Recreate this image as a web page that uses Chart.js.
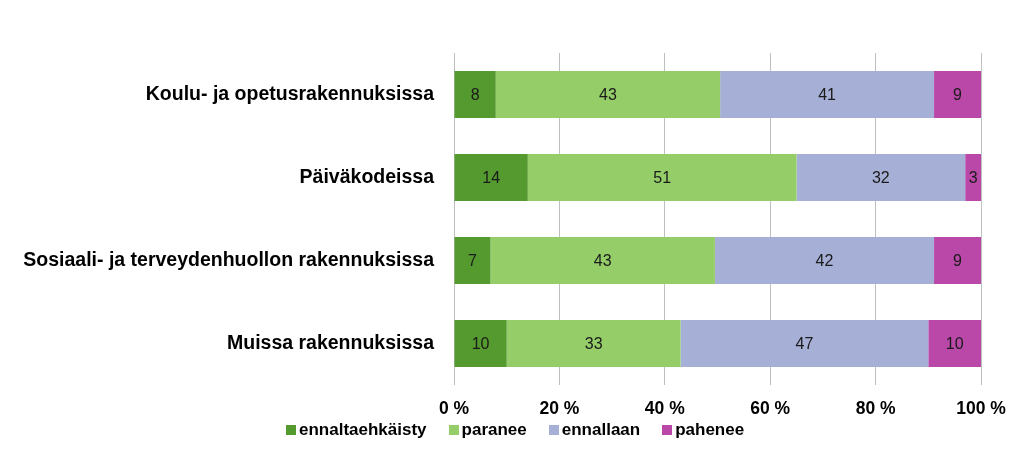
<!DOCTYPE html>
<html><head><meta charset="utf-8">
<script src="https://cdn.jsdelivr.net/npm/chart.js@4"></script>
<style>
html,body{margin:0;padding:0;background:#fff}
#wrap{position:relative;width:1024px;height:459px}
#legend{position:absolute;left:286px;top:420px;height:20px;display:flex;align-items:center;
  font:bold 17px "Liberation Sans", Arial, sans-serif;color:#000;white-space:nowrap}
#legend .item{display:flex;align-items:center;margin-right:22px}
#legend .box{width:10px;height:10px;margin-right:3px}
</style>
</head><body><div id="wrap"><canvas id="c" width="1024" height="459"></canvas><div id="legend"></div></div>
<script>
const categories = ["Koulu- ja opetusrakennuksissa", "Päiväkodeissa", "Sosiaali- ja terveydenhuollon rakennuksissa", "Muissa rakennuksissa"];
const seriesNames = ["ennaltaehkäisty", "paranee", "ennallaan", "pahenee"];
const ennaltaehkaisty = [8, 14, 7, 10];
const paranee = [43, 51, 43, 33];
const ennallaan = [41, 32, 42, 47];
const pahenee = [9, 3, 9, 10];
const xTicks = [0, 20, 40, 60, 80, 100];
const colors = ["#549a2e", "#95ce68", "#a6afd6", "#b948a9"];

const raw = [ennaltaehkaisty, paranee, ennallaan, pahenee];
const totals = categories.map((_, i) => raw.reduce((s, arr) => s + arr[i], 0));
const datasets = raw.map((arr, k) => ({
  label: seriesNames[k],
  data: arr.map((v, i) => v / totals[i] * 100),
  rawValues: arr,
  backgroundColor: colors[k],
  borderWidth: 0,
  categoryPercentage: 1.0,
  barPercentage: 0.566
}));

// HTML legend built from series names and colours
const legendEl = document.getElementById('legend');
seriesNames.forEach((name, k) => {
  const item = document.createElement('div'); item.className = 'item';
  const box = document.createElement('div'); box.className = 'box'; box.style.background = colors[k];
  const txt = document.createElement('span'); txt.textContent = name;
  item.appendChild(box); item.appendChild(txt); legendEl.appendChild(item);
});

const valueLabels = {
  id: 'valueLabels',
  afterDatasetsDraw(chart) {
    const ctx = chart.ctx;
    ctx.save();
    ctx.font = '16px "Liberation Sans", Arial, sans-serif';
    ctx.fillStyle = '#1a1a1a';
    ctx.textAlign = 'center';
    ctx.textBaseline = 'middle';
    chart.data.datasets.forEach((ds, di) => {
      chart.getDatasetMeta(di).data.forEach((el, i) => {
        const cx = (el.x + el.base) / 2;
        ctx.fillText(String(ds.rawValues[i]), cx, el.y + 1);
      });
    });
    ctx.restore();
  }
};

new Chart(document.getElementById('c'), {
  type: 'bar',
  data: { labels: categories, datasets },
  plugins: [valueLabels],
  options: {
    indexAxis: 'y',
    responsive: false,
    animation: false,
    layout: { padding: { top: 53, right: 43, left: 0, bottom: 0 } },
    plugins: {
      tooltip: { enabled: false },
      legend: { display: false }
    },
    scales: {
      x: {
        stacked: true, min: 0, max: 100,
        afterBuildTicks(scale) { scale.ticks = xTicks.map(v => ({ value: v })); },
        afterFit(scale) { scale.height = 74; },
        ticks: {
          callback: v => v + ' %',
          color: '#000', padding: 14, maxRotation: 0,
          font: { family: '"Liberation Sans", Arial, sans-serif', size: 17.5, weight: 'bold' }
        },
        grid: { color: '#bfbfbf', lineWidth: 1, drawTicks: false },
        border: { display: false }
      },
      y: {
        stacked: true,
        afterFit(scale) { scale.width = 454; },
        ticks: {
          color: '#000', padding: 20,
          font: { family: '"Liberation Sans", Arial, sans-serif', size: 19.5, weight: 'bold' }
        },
        grid: { display: false, drawTicks: false },
        border: { display: false }
      }
    }
  }
});
</script>
</body></html>
